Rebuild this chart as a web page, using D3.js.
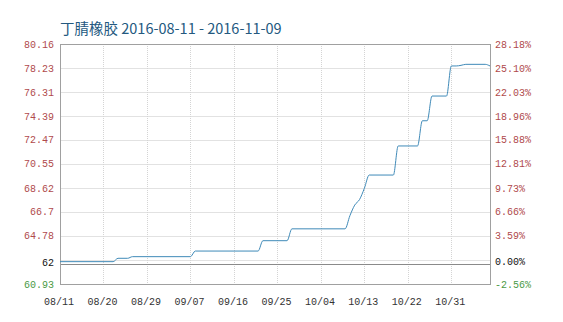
<!DOCTYPE html>
<html>
<head>
<meta charset="utf-8">
<script src="https://cdn.jsdelivr.net/npm/d3@7"></script>
<style>
  body { margin: 0; background: #fff; }
  text { font-family: "Liberation Mono", "DejaVu Sans Mono", monospace; }
  text.title { font-family: "Noto Sans CJK SC", "Noto Sans", sans-serif; }
</style>
</head>
<body>
<svg width="563" height="322"></svg>
<script>
let width = 563, height = 322;

// price series
let dates = ["2016-08-11", "2016-08-22", "2016-08-23", "2016-08-25", "2016-08-26", "2016-09-07",
    "2016-09-08", "2016-09-21", "2016-09-22", "2016-09-27", "2016-09-28", "2016-10-09",
    "2016-10-10", "2016-10-11", "2016-10-12", "2016-10-13", "2016-10-14", "2016-10-19",
    "2016-10-20", "2016-10-24", "2016-10-25", "2016-10-26", "2016-10-27", "2016-10-30",
    "2016-10-31", "2016-11-01", "2016-11-02", "2016-11-03", "2016-11-07", "2016-11-08"];
let prices = [62.72, 62.72, 62.99, 62.99, 63.12, 63.12,
    63.57, 63.57, 64.40, 64.40, 65.35, 65.35,
    66.40, 67.25, 67.70, 68.60, 69.66, 69.66,
    71.99, 71.99, 74.01, 74.01, 75.99, 75.99,
    78.40, 78.40, 78.45, 78.53, 78.53, 78.40];

// axis labels
let leftLabels = ["80.16", "78.23", "76.31", "74.39", "72.47", "70.55", "68.62", "66.7", "64.78"];
let rightLabels = ["28.18%", "25.10%", "22.03%", "18.96%", "15.88%", "12.81%", "9.73%", "6.66%", "3.59%"];
let baseValue = 62.54, baseLabel = "62", basePct = "0.00%";
let minValue = 60.93, minLabel = "60.93", minPct = "-2.56%";
let xLabels = ["08/11", "08/20", "08/29", "09/07", "09/16", "09/25", "10/04", "10/13", "10/22", "10/31"];
let title = "丁腈橡胶 2016-08-11 - 2016-11-09";

let parse = d3.timeParse("%Y-%m-%d");
let data = dates.map((d, i) => ({ date: parse(d), value: prices[i] }));

let plotLeft = 60, plotRight = 490, plotTop = 44, plotBottom = 284;

let svg = d3.select("svg");

let x = d3.scaleTime()
    .domain([parse("2016-08-11"), parse("2016-11-08")])
    .range([plotLeft, plotRight]);
let y = d3.scaleLinear()
    .domain([minValue, 80.16])
    .range([plotBottom, plotTop]);

// horizontal grid
svg.append("g")
    .selectAll("line")
    .data(leftLabels.slice(1).map(Number).concat([80.16 - 9 * 1.923]))
    .enter()
    .append("line")
    .attr("x1", plotLeft).attr("x2", plotRight)
    .attr("y1", d => Math.round(y(d)) + 0.5)
    .attr("y2", d => Math.round(y(d)) + 0.5)
    .attr("stroke", "#e2e2e2");

// vertical grid
let xTickDates = xLabels.map(s => parse("2016-" + s.replace("/", "-")));
svg.append("g")
    .selectAll("line")
    .data(xTickDates.slice(1))
    .enter()
    .append("line")
    .attr("x1", d => Math.round(x(d)) + 0.5)
    .attr("x2", d => Math.round(x(d)) + 0.5)
    .attr("y1", plotTop).attr("y2", plotBottom)
    .attr("stroke", "#d4d4d4")
    .attr("stroke-dasharray", "1,1");

// base line (0%)
svg.append("line")
    .attr("x1", plotLeft).attr("x2", plotRight)
    .attr("y1", Math.round(y(baseValue)) + 0.5)
    .attr("y2", Math.round(y(baseValue)) + 0.5)
    .attr("stroke", "#8a8a8a");

// frame
svg.append("rect")
    .attr("x", plotLeft + 0.5).attr("y", plotTop + 0.5)
    .attr("width", plotRight - plotLeft).attr("height", plotBottom - plotTop)
    .attr("fill", "none")
    .attr("stroke", "#a0a0a0");

// price line
let line = d3.line()
    .x(d => x(d.date))
    .y(d => y(d.value))
    .curve(d3.curveMonotoneX);

svg.append("path")
    .datum(data)
    .attr("d", line)
    .attr("fill", "none")
    .attr("stroke", "#3f8ab8")
    .attr("stroke-width", 1);

// left labels
let leftG = svg.append("g").attr("font-size", 10).attr("text-anchor", "end");
leftG.selectAll("text")
    .data(leftLabels)
    .enter()
    .append("text")
    .attr("x", 54)
    .attr("y", d => y(+d))
    .attr("dy", "0.35em")
    .attr("fill", "#b04a4c")
    .text(d => d);
leftG.append("text").attr("x", 54).attr("y", y(baseValue) - 1).attr("dy", "0.35em")
    .attr("fill", "#111").text(baseLabel);
leftG.append("text").attr("x", 54).attr("y", y(minValue)).attr("dy", "0.35em")
    .attr("fill", "#4b9a46").text(minLabel);

// right labels
let rightG = svg.append("g").attr("font-size", 10).attr("text-anchor", "start");
rightG.selectAll("text")
    .data(rightLabels)
    .enter()
    .append("text")
    .attr("x", 495)
    .attr("y", (d, i) => y(+leftLabels[i]))
    .attr("dy", "0.35em")
    .attr("fill", "#b04a4c")
    .text(d => d);
rightG.append("text").attr("x", 495).attr("y", y(baseValue) - 2).attr("dy", "0.35em")
    .attr("fill", "#111").text(basePct);
rightG.append("text").attr("x", 495).attr("y", y(minValue)).attr("dy", "0.35em")
    .attr("fill", "#4b9a46").text(minPct);

// x labels
svg.append("g")
    .attr("font-size", 10)
    .attr("text-anchor", "middle")
    .selectAll("text")
    .data(xLabels)
    .enter()
    .append("text")
    .attr("x", (d, i) => x(xTickDates[i]) - 1)
    .attr("y", 301)
    .attr("dy", "0.35em")
    .attr("fill", "#333")
    .text(d => d);

// title
svg.append("text")
    .attr("class", "title")
    .attr("x", 60)
    .attr("y", 34)
    .attr("font-size", 14.5)
    .attr("fill", "#24597f")
    .text(title);
</script>
</body>
</html>
